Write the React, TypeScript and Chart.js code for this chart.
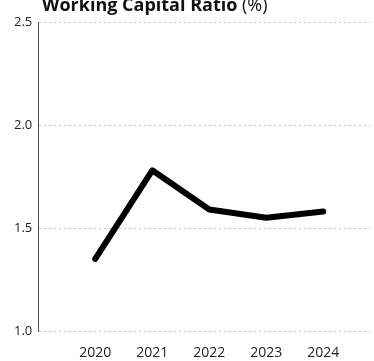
import React, { useEffect, useRef } from "react";
import { Chart, registerables } from "chart.js";

Chart.register(...registerables);

const years = [2020, 2021, 2022, 2023, 2024];
const ratio = [1.35, 1.78, 1.59, 1.55, 1.58];
const yTicks = [1.0, 1.5, 2.0, 2.5];
const titleMain = "Working Capital Ratio ";
const titleUnit = "(%)";

const FONT = "'Open Sans', 'Noto Sans', sans-serif";

// Title drawn by hand so it can sit tight against the top edge
const titlePlugin = {
  id: "topTitle",
  afterDraw(chart: any) {
    const ctx = chart.ctx;
    ctx.save();
    ctx.fillStyle = "#111";
    ctx.textBaseline = "alphabetic";
    ctx.textAlign = "left";
    ctx.font = `bold 18px ${FONT}`;
    const x0 = 42;
    ctx.fillText(titleMain, x0, 11);
    const w = ctx.measureText(titleMain).width;
    ctx.font = `normal 18px ${FONT}`;
    ctx.fillText(titleUnit, x0 + w, 11);
    ctx.restore();
  },
};

export default function App() {
  const ref = useRef<HTMLCanvasElement>(null);
  useEffect(() => {
    if (!ref.current) return;
    const chart = new Chart(ref.current, {
      type: "line",
      data: {
        datasets: [
          {
            data: years.map((y, i) => ({ x: y, y: ratio[i] })),
            borderColor: "#000",
            borderWidth: 6,
            pointRadius: 0,
            borderJoinStyle: "round",
            borderCapStyle: "round",
            tension: 0,
          },
        ],
      },
      options: {
        animation: false,
        responsive: false,
        layout: { padding: { top: 22, right: 4, left: 8, bottom: 0 } },
        plugins: { legend: { display: false }, title: { display: false }, tooltip: { enabled: false } },
        scales: {
          x: {
            type: "linear",
            min: 2019,
            max: 2024.82,
            afterBuildTicks: (axis: any) => {
              axis.ticks = years.map((v) => ({ value: v }));
            },
            afterFit: (axis: any) => {
              axis.height = 30;
            },
            ticks: {
              color: "#222",
              font: { family: FONT, size: 14 },
              padding: 6,
              callback: (v: any) => String(v),
            },
            grid: { display: false },
            border: { display: false },
          },
          y: {
            min: 1.0,
            max: 2.5,
            afterBuildTicks: (axis: any) => {
              axis.ticks = yTicks.map((v) => ({ value: v }));
            },
            ticks: {
              color: "#222",
              font: { family: FONT, size: 13 },
              padding: 6,
              callback: (v: any) => Number(v).toFixed(1),
            },
            grid: {
              color: "#c4c4c4",
              drawTicks: false,
              lineWidth: 1,
            },
            border: { display: true, color: "#555", width: 1, dash: [2, 3] },
          },
        },
      },
      plugins: [titlePlugin],
    } as any);
    return () => chart.destroy();
  }, []);
  return (
    <div style={{ position: "absolute", left: 0, top: 0, width: 374, height: 361, background: "#fff" }}>
      <canvas ref={ref} width={374} height={361} style={{ display: "block" }} />
    </div>
  );
}
